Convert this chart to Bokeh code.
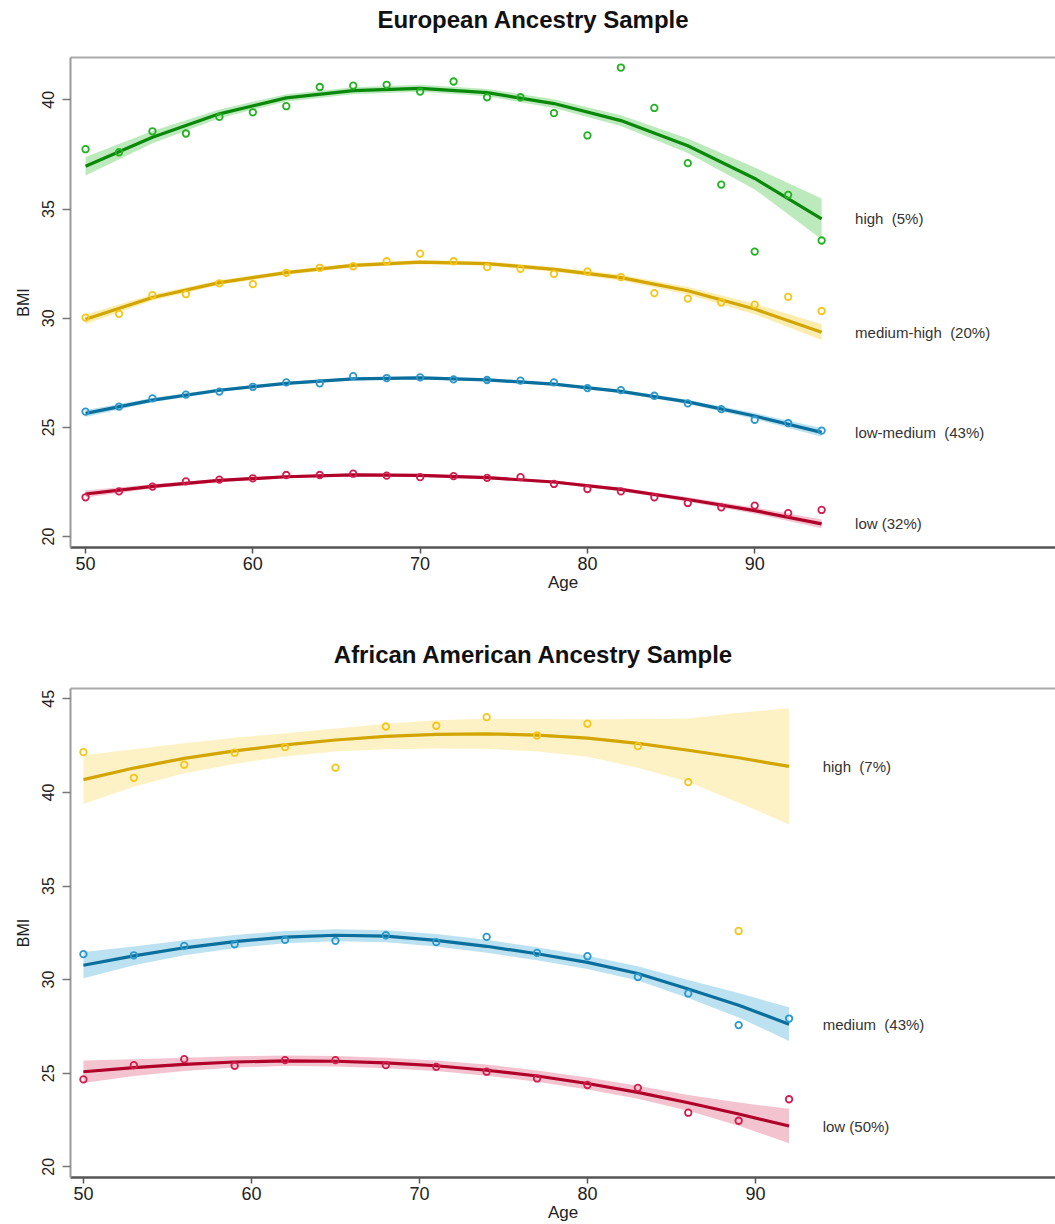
from bokeh.plotting import figure
from bokeh.layouts import column
from bokeh.models import Range1d, LinearAxis, ColumnDataSource, FixedTicker, Div
from bokeh.core.properties import value
from bokeh.embed import file_html
from bokeh.resources import INLINE

FONT = "Liberation Sans"

# ---------------- European Ancestry Sample ----------------
eu_title = "European Ancestry Sample"
eu_ages = [50, 52, 54, 56, 58, 60, 62, 64, 66, 68, 70, 72, 74, 76, 78, 80, 82, 84, 86, 88, 90, 92, 94]
eu_high_pts = [37.74, 37.6, 38.56, 38.46, 39.22, 39.43, 39.71, 40.59, 40.65, 40.69, 40.38, 40.84,
               40.12, 40.12, 39.39, 38.37, 41.48, 39.63, 37.1, 36.12, 33.05, 35.65, 33.56]
eu_medhigh_pts = [30.03, 30.2, 31.06, 31.1, 31.6, 31.56, 32.08, 32.31, 32.38, 32.61, 32.96, 32.61,
                  32.34, 32.26, 32.03, 32.14, 31.88, 31.15, 30.9, 30.72, 30.62, 30.98, 30.33]
eu_lowmed_pts = [25.72, 25.95, 26.33, 26.5, 26.64, 26.86, 27.06, 27.02, 27.35, 27.26, 27.29, 27.2,
                 27.17, 27.14, 27.06, 26.8, 26.71, 26.45, 26.1, 25.84, 25.35, 25.2, 24.85]
eu_low_pts = [21.8, 22.07, 22.29, 22.53, 22.61, 22.67, 22.82, 22.82, 22.88, 22.79, 22.72, 22.77,
              22.69, 22.72, 22.41, 22.18, 22.07, 21.8, 21.54, 21.34, 21.42, 21.07, 21.22]

eu_fit_ages = [50, 54, 58, 62, 66, 70, 74, 78, 82, 86, 90, 94]
eu_high_fit = [36.96, 38.29, 39.36, 40.09, 40.42, 40.53, 40.33, 39.83, 39.05, 37.9, 36.4, 34.55]
eu_high_ci = [0.42, 0.28, 0.2, 0.17, 0.16, 0.16, 0.17, 0.2, 0.25, 0.33, 0.5, 0.93]
eu_medhigh_fit = [29.95, 30.95, 31.63, 32.09, 32.42, 32.57, 32.5, 32.24, 31.86, 31.26, 30.42, 29.36]
eu_medhigh_ci = [0.22, 0.14, 0.11, 0.1, 0.1, 0.1, 0.1, 0.11, 0.13, 0.17, 0.24, 0.36]
eu_lowmed_fit = [25.64, 26.25, 26.7, 27.02, 27.22, 27.27, 27.18, 26.98, 26.65, 26.17, 25.52, 24.77]
eu_lowmed_ci = [0.16, 0.1, 0.08, 0.07, 0.07, 0.07, 0.07, 0.07, 0.08, 0.1, 0.14, 0.2]
eu_low_fit = [21.95, 22.3, 22.57, 22.74, 22.83, 22.8, 22.7, 22.5, 22.16, 21.7, 21.19, 20.58]
eu_low_ci = [0.16, 0.1, 0.08, 0.07, 0.07, 0.07, 0.07, 0.07, 0.08, 0.1, 0.14, 0.2]
eu_labels = ["high\u00a0 (5%)", "medium-high\u00a0 (20%)", "low-medium\u00a0 (43%)", "low (32%)"]

# ---------------- African American Ancestry Sample ----------------
aa_title = "African American Ancestry Sample"
aa_ages = [50, 53, 56, 59, 62, 65, 68, 71, 74, 77, 80, 83, 86, 89, 92]
aa_high_pts = [42.15, 40.78, 41.48, 42.12, 42.42, 41.32, 43.52, 43.56, 44.02, 43.04, 43.67, 42.47, 40.55, 32.6]
aa_med_pts = [31.36, 31.3, 31.8, 31.89, 32.12, 32.07, 32.37, 32.0, 32.28, 31.43, 31.25, 30.14, 29.26, 27.57, 27.92]
aa_low_pts = [24.67, 25.43, 25.75, 25.4, 25.7, 25.7, 25.43, 25.34, 25.08, 24.72, 24.37, 24.22, 22.89, 22.46, 23.61]

aa_high_fit = [40.68, 41.3, 41.82, 42.22, 42.54, 42.8, 42.99, 43.1, 43.13, 43.06, 42.9, 42.62, 42.25, 41.85, 41.39]
aa_high_ci = [1.3, 1.0, 0.8, 0.7, 0.62, 0.62, 0.68, 0.75, 0.8, 0.88, 1.0, 1.3, 1.7, 2.4, 3.1]
aa_med_fit = [30.77, 31.27, 31.7, 32.03, 32.27, 32.37, 32.32, 32.1, 31.78, 31.38, 30.92, 30.33, 29.5, 28.63, 27.62]
aa_med_ci = [0.7, 0.5, 0.4, 0.35, 0.33, 0.32, 0.32, 0.33, 0.35, 0.35, 0.35, 0.38, 0.48, 0.65, 0.9]
aa_low_fit = [25.08, 25.3, 25.47, 25.6, 25.66, 25.64, 25.55, 25.4, 25.16, 24.85, 24.45, 23.98, 23.42, 22.82, 22.18]
aa_low_ci = [0.6, 0.45, 0.35, 0.3, 0.28, 0.28, 0.28, 0.28, 0.3, 0.3, 0.32, 0.35, 0.42, 0.62, 0.92]
aa_labels = ["high\u00a0 (7%)", "medium\u00a0 (43%)", "low (50%)"]

x_ticks = [50, 60, 70, 80, 90]
eu_y_ticks = [20, 25, 30, 35, 40]
aa_y_ticks = [20, 25, 30, 35, 40, 45]

# colours: (point, line, band)
GREEN = ("#22b222", "#0a880a", "#8fdc8f")
YELLOW = ("#f5c518", "#d2a500", "#f8e07a")
BLUE = ("#2b97cb", "#0a6f9c", "#8fcfea")
RED = ("#d01e4e", "#b0002a", "#eb9bb0")
YELLOW_AA = ("#f5c518", "#d2a500", "#fce9a0")


def make_title(text, height, line_h):
    html = ('<div style="font-family: \'Liberation Sans\', Arial, sans-serif; font-size: 24px; '
            'font-weight: bold; color: #111111; text-align: center; width: 1066px; '
            'line-height: %dpx; white-space: nowrap;">%s</div>' % (line_h, text))
    return Div(text=html, width=1055, height=height, margin=(0, 0, 0, 0))


def make_fig(xr, yr, height, btop, bbottom, yticks):
    p = figure(width=1055, height=height, x_range=Range1d(*xr), y_range=Range1d(*yr),
               output_backend="svg", toolbar_location=None,
               min_border_left=70, min_border_right=0, min_border_top=btop, min_border_bottom=bbottom)
    p.background_fill_color = "white"
    p.border_fill_color = "white"
    p.outline_line_color = None
    p.grid.visible = False

    xa = p.below[0]
    xa.ticker = FixedTicker(ticks=x_ticks)
    xa.axis_line_color = "#555555"
    xa.axis_line_width = 2.5
    xa.major_tick_line_color = "#555555"
    xa.major_tick_line_width = 1.5
    xa.major_tick_out = 6
    xa.major_tick_in = 0
    xa.minor_tick_line_color = None
    xa.major_label_text_font = FONT
    xa.major_label_text_font_size = "18px"
    xa.major_label_text_color = "#222222"
    xa.major_label_standoff = 3
    xa.axis_label = "Age"
    xa.axis_label_text_font = FONT
    xa.axis_label_text_font_size = "17px"
    xa.axis_label_text_font_style = "normal"
    xa.axis_label_text_color = "#222222"
    xa.axis_label_standoff = 0

    ya = p.left[0]
    ya.ticker = FixedTicker(ticks=yticks)
    ya.axis_line_color = "#999999"
    ya.axis_line_width = 2
    ya.major_tick_line_color = "#777777"
    ya.major_tick_line_width = 1.5
    ya.major_tick_out = 8
    ya.major_tick_in = 0
    ya.minor_tick_line_color = None
    ya.major_label_orientation = "vertical"
    ya.major_label_text_font = FONT
    ya.major_label_text_font_size = "16px"
    ya.major_label_text_color = "#222222"
    ya.major_label_standoff = 8
    ya.axis_label = "BMI"
    ya.axis_label_text_font = FONT
    ya.axis_label_text_font_size = "16px"
    ya.axis_label_text_font_style = "normal"
    ya.axis_label_text_color = "#222222"
    ya.axis_label_standoff = 8

    top = LinearAxis(ticker=FixedTicker(ticks=[]), axis_line_color="#aaaaaa", axis_line_width=2,
                     major_tick_line_color=None, minor_tick_line_color=None,
                     major_tick_out=0, major_tick_in=0, major_label_standoff=0,
                     major_label_text_font_size="0px")
    p.add_layout(top, "above")
    return p


def add_series(p, ages, pts, fit_ages, fit, ci, colors):
    pc, lc, bc = colors
    lo = [m - h for m, h in zip(fit, ci)]
    hi = [m + h for m, h in zip(fit, ci)]
    p.varea(x=fit_ages, y1=lo, y2=hi, fill_color=bc, fill_alpha=0.6)
    p.line(x=fit_ages, y=fit, line_color=lc, line_width=3.2, line_join="round")
    p.scatter(x=ages[:len(pts)], y=pts, marker="circle", size=6.5, fill_color=None,
              line_color=pc, line_width=1.8)


def add_labels(p, xs, ys, texts):
    src = ColumnDataSource(dict(x=xs, y=ys, t=texts))
    p.text(x="x", y="y", text="t", source=src, text_font=value(FONT), text_font_size="15px",
           text_color="#333333", text_align="left", text_baseline="middle")


# top
t1 = make_title(eu_title, 40, 40)
p1 = make_fig((49.1, 107.98), (19.5, 41.94), 578, 17, 71, eu_y_ticks)
add_series(p1, eu_ages, eu_high_pts, eu_fit_ages, eu_high_fit, eu_high_ci, GREEN)
add_series(p1, eu_ages, eu_medhigh_pts, eu_fit_ages, eu_medhigh_fit, eu_medhigh_ci, YELLOW)
add_series(p1, eu_ages, eu_lowmed_pts, eu_fit_ages, eu_lowmed_fit, eu_lowmed_ci, BLUE)
add_series(p1, eu_ages, eu_low_pts, eu_fit_ages, eu_low_fit, eu_low_ci, RED)
eu_label_x = eu_fit_ages[-1] + 2
add_labels(p1, [eu_label_x] * 4,
           [eu_high_fit[-1], eu_medhigh_fit[-1], eu_lowmed_fit[-1], eu_low_fit[-1]], eu_labels)

# bottom
t2 = make_title(aa_title, 62, 74)
p2 = make_fig((49.23, 107.86), (19.43, 45.55), 544, 8, 47, aa_y_ticks)
add_series(p2, aa_ages, aa_high_pts, aa_ages, aa_high_fit, aa_high_ci, YELLOW_AA)
add_series(p2, aa_ages, aa_med_pts, aa_ages, aa_med_fit, aa_med_ci, BLUE)
add_series(p2, aa_ages, aa_low_pts, aa_ages, aa_low_fit, aa_low_ci, RED)
aa_label_x = aa_ages[-1] + 2
add_labels(p2, [aa_label_x] * 3, [aa_high_fit[-1], aa_med_fit[-1], aa_low_fit[-1]], aa_labels)

layout = column(t1, p1, t2, p2, spacing=0)
open("out.html", "w").write(file_html(layout, INLINE))
